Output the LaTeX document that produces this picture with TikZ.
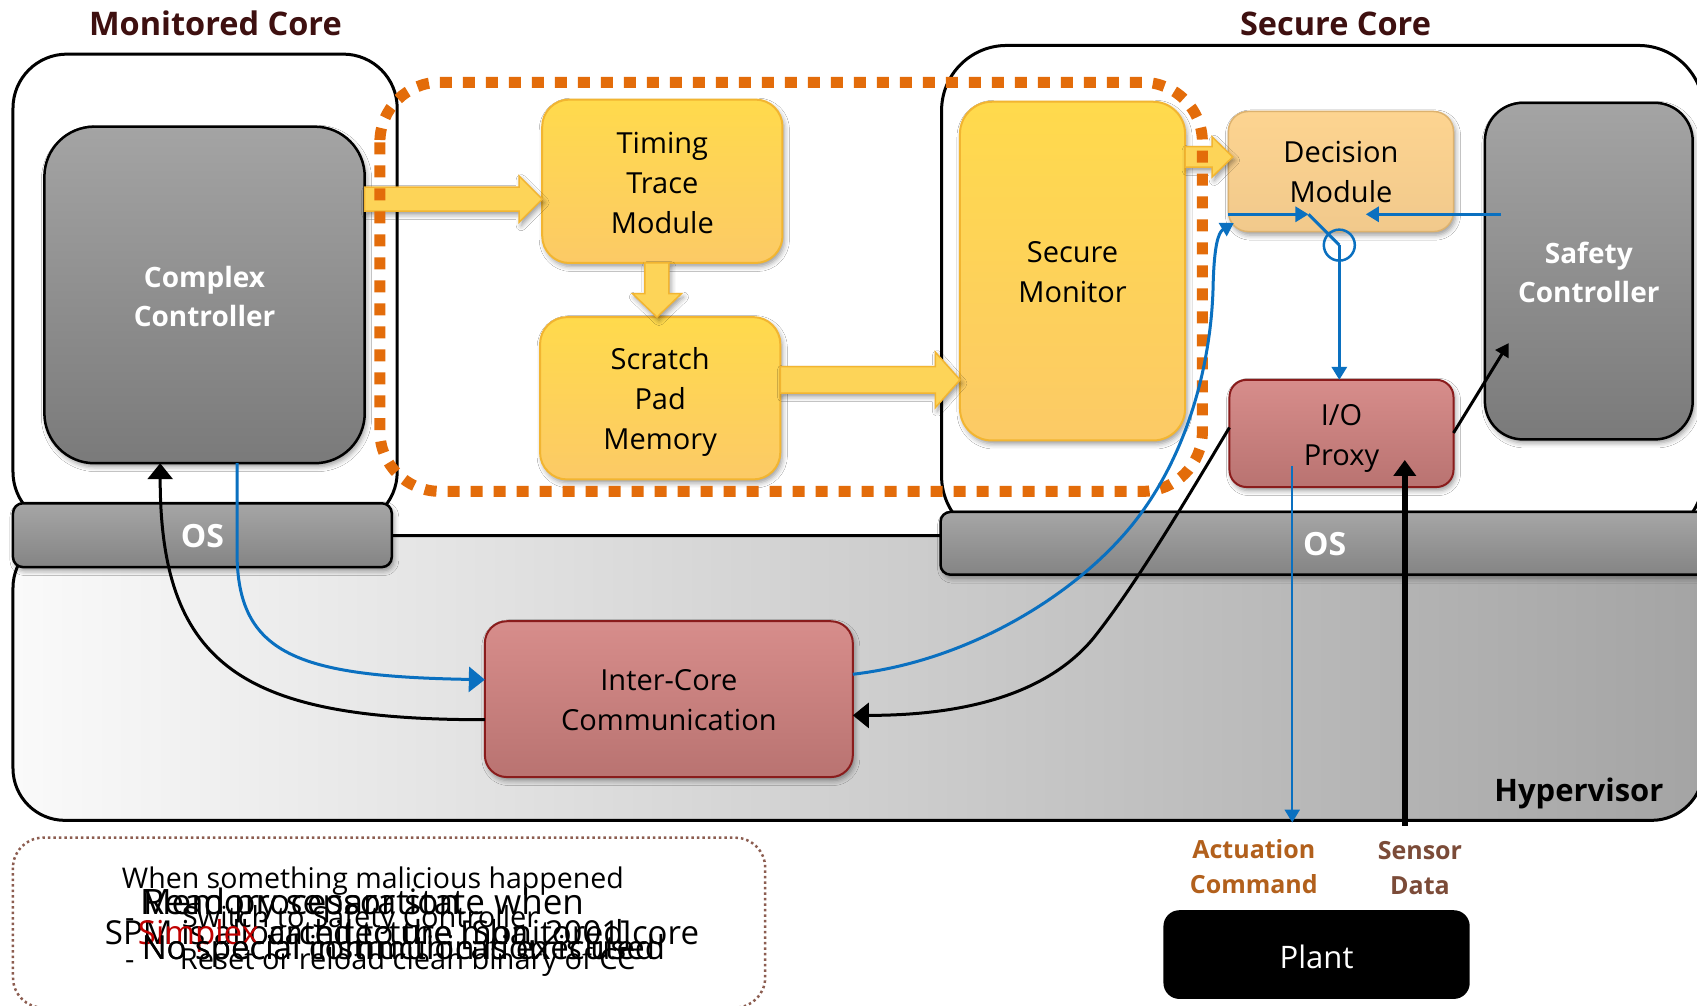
\documentclass[tikz,border=0pt]{standalone}
\usepackage{fontspec}
\setmainfont{Open Sans}
\usetikzlibrary{fit,calc,arrows.meta,shadows.blur}

% palette
\definecolor{titlebrown}{HTML}{3E1010}
\definecolor{ctrlblue}{HTML}{0A70C0}
\definecolor{dotorange}{HTML}{E36C0A}
\definecolor{yeltop}{HTML}{FFDA4C}
\definecolor{yelbot}{HTML}{FCCA66}
\definecolor{yeledge}{HTML}{F2B531}
\definecolor{yelfill}{HTML}{FDD458}
\definecolor{dectop}{HTML}{FDD490}
\definecolor{decbot}{HTML}{F1C98C}
\definecolor{decedge}{HTML}{DDB26E}
\definecolor{pinktop}{HTML}{D78D8B}
\definecolor{pinkbot}{HTML}{B97371}
\definecolor{pinkedge}{HTML}{8A1C1C}
\definecolor{graytop}{HTML}{A4A4A4}
\definecolor{graybot}{HTML}{7A7A7A}
\definecolor{ostop}{HTML}{A6A6A6}
\definecolor{osbot}{HTML}{848484}
\definecolor{hvleft}{HTML}{FAFAFA}
\definecolor{hvright}{HTML}{A4A4A4}
\definecolor{actbrown}{HTML}{B2601C}
\definecolor{senbrown}{HTML}{7B4B38}
\definecolor{notebrown}{HTML}{8C5D50}
\definecolor{simplexred}{HTML}{C00000}

% type sizes
\newcommand\bodyfs{\fontsize{29}{40}\selectfont}
\newcommand\boldfs{\fontsize{28}{39}\selectfont\bfseries}
\newcommand\titlefs{\fontsize{32.5}{38}\selectfont\bfseries}
\newcommand\osfs{\fontsize{32}{36}\selectfont\bfseries}
\newcommand\notefs[1]{\fontsize{#1}{#1}\selectfont}

% wide block arrow pointing right: start, tip, half shaft, half head, head length
\newcommand\blockright[5]{%
  \path[blockarrow] ($(#1)+(0pt,#3)$) -- ($(#2)+(-#5,#3)$) -- ($(#2)+(-#5,#4)$) -- (#2)
    -- ($(#2)+(-#5,-#4)$) -- ($(#2)+(-#5,-#3)$) -- ($(#1)+(0pt,-#3)$) -- cycle;}
% wide block arrow pointing down
\newcommand\blockdown[5]{%
  \path[blockarrow] ($(#1)+(#3,0pt)$) -- ($(#2)+(#3,#5)$) -- ($(#2)+(#4,#5)$) -- (#2)
    -- ($(#2)+(-#4,#5)$) -- ($(#2)+(-#3,#5)$) -- ($(#1)+(-#3,0pt)$) -- cycle;}

\tikzset{
  every node/.style={inner sep=0pt, outer sep=0pt},
  softshadow/.style={blur shadow={shadow xshift=2pt, shadow yshift=-3.5pt,
      shadow blur radius=5pt, shadow opacity=40}},
  boxtext/.style={align=center, font=\bodyfs},
  boldtext/.style={align=center, text=white, font=\boldfs},
  graybox/.style={rounded corners=#1, draw=black, line width=2.5pt,
      top color=graytop, bottom color=graybot, softshadow},
  yellowbox/.style={rounded corners=#1, draw=yeledge, line width=2pt,
      top color=yeltop, bottom color=yelbot, softshadow},
  decbox/.style={rounded corners=#1, draw=decedge, line width=1.5pt,
      top color=dectop, bottom color=decbot, softshadow},
  pinkbox/.style={rounded corners=#1, draw=pinkedge, line width=2pt,
      top color=pinktop, bottom color=pinkbot, softshadow},
  osbar/.style={rounded corners=10pt, draw=black, line width=2.5pt,
      top color=ostop, bottom color=osbot, softshadow},
  ostext/.style={text=white, font=\osfs},
  corebox/.style={draw=black, line width=3pt, fill=white, rounded corners=#1},
  blockarrow/.style={fill=yelfill, draw=yeledge, line width=1.5pt, softshadow},
  ctrl/.style={draw=ctrlblue, line width=3pt},
  back/.style={draw=black, line width=3pt},
  bigtip/.style={-{Triangle[length=16pt,width=25pt]}},
  smalltip/.style={-{Triangle[length=13pt,width=15pt]}},
  noteline/.style={anchor=base west, font=\notefs{#1}},
}

\begin{document}
\begin{tikzpicture}[x=1.0823pt,y=-1.0823pt]
\useasboundingbox (0,0) rectangle (1568,929);
\fill[white] (0,0) rectangle (1568,929);
\clip (0,0) rectangle (1568,929);

% hypervisor layer and the two cores
\path[draw=black, line width=3pt, left color=hvleft, right color=hvright,
      rounded corners=52pt] (12,495) rectangle (1574,758);
\path[corebox=54pt] (12,50) rectangle (367,486);
\path[corebox=65pt] (870,42) rectangle (1574,500);

% note panel
\path[draw=notebrown, line width=2.5pt, dash pattern=on 2.5pt off 3pt,
      rounded corners=30pt] (12,774) rectangle (707,931);

% titles
\node[font=\titlefs, text=titlebrown, anchor=base] (mtitle) at (199,32.5) {Monitored Core};
\node[font=\titlefs, text=titlebrown, anchor=base] (stitle) at (1234,32.5) {Secure Core};

% operating systems
\node[osbar, fit={(12,465) (362,524)}] (osl) {};
\node[ostext] (osltext) at ($(osl.center)+(0,0.5)$) {OS};
\node[osbar, fit={(869,473) (1620,531)}] (osr) {};
\node[ostext] (osrtext) at (1224,503) {OS};

% components
\node[graybox=50pt, fit={(41,117) (337,428)}] (cc) {};
\node[boldtext] (cctext) at ($(cc.center)+(0,1)$) {Complex\\Controller};
\node[yellowbox=27pt, fit={(501,92) (723,243)}] (timing) {};
\node[boxtext] (timingtext) at ($(timing.center)+(0,1.5)$) {Timing\\Trace\\Module};
\node[yellowbox=27pt, fit={(499,293) (721,443)}] (spm) {};
\node[boxtext] (spmtext) at ($(spm.center)+(0,3.5)$) {Scratch\\Pad\\Memory};
\node[yellowbox=32pt, fit={(887,94) (1095,407)}] (smon) {};
\node[boxtext] (smontext) at ($(smon.center)+(0,1)$) {Secure\\Monitor};
\node[decbox=20pt, fit={(1135,103) (1343,214)}] (dm) {};
\node[boxtext] (dmtext) at (dm.center) {Decision\\Module};
\node[graybox=38pt, fit={(1372,95) (1564,406)}] (sc) {};
\node[boldtext] (sctext) at ($(sc.center)+(0,1)$) {Safety\\Controller};
\node[pinkbox=17pt, fit={(1136,351) (1343,450)}] (io) {};
\node[boxtext] (iotext) at ($(io.center)+(0,5)$) {I/O\\Proxy};
\node[pinkbox=22pt, fit={(448,574) (788,718)}] (icc) {};
\node[boxtext] (icctext) at ($(icc.center)+(0,0.5)$) {Inter-Core\\Communication};
\node[rounded corners=16pt, fill=black, fit={(1075,841) (1358,923)}] (plant) {};
\node[text=white, font=\fontsize{31}{36}\selectfont] (planttext) at ($(plant.center)+(0,2)$) {Plant};

% labels
\node[anchor=base east, font=\fontsize{31}{36}\selectfont\bfseries] (hv) at (1537,740.7) {Hypervisor};
\node[align=center, text=actbrown, font=\fontsize{25}{35}\selectfont\bfseries] (act) at (1158.5,801) {Actuation\\Command};
\node[align=center, text=senbrown, font=\fontsize{25}{35}\selectfont\bfseries] (sen) at (1312,802.5) {Sensor\\Data};

% data path block arrows
\coordinate (a1s) at (cc.east |- 0,184);
\coordinate (a1e) at (timing.west |- a1s);
\blockright{a1s}{a1e}{12pt}{23pt}{23pt}
\coordinate (a2s) at (timing.south -| 607,0);
\coordinate (a2e) at (spm.north -| a2s);
\blockdown{a2s}{a2e}{12pt}{24.5pt}{23.5pt}
\coordinate (a3s) at (spm.east |- 0,351);
\coordinate (a3e) at (smon.west |- a3s);
\blockright{a3s}{a3e}{13.3pt}{27.7pt}{24.6pt}
\coordinate (a4s) at (smon.east |- 0,145);
\coordinate (a4e) at ($(dm.west |- a4s)+(4,0)$);
\blockright{a4s}{a4e}{10.3pt}{20pt}{20.5pt}

% protected region
\path[draw=dotorange, line width=11pt, dash pattern=on 12pt off 11pt,
      rounded corners=60pt] (351,76) rectangle (1111,454);

% anchor points of the control connectors
\coordinate (ccb1) at (cc.south -| 219,0);
\coordinate (ccb2) at (cc.south -| 148,0);
\coordinate (icw1) at (icc.west |- 0,628);
\coordinate (icw2) at (icc.west |- 0,665);
\coordinate (ice1) at (icc.east |- 0,623);
\coordinate (ice2) at (icc.east |- 0,661);
\coordinate (iow) at (io.west |- 0,395);
\coordinate (ioe) at (io.east |- 0,400);
\coordinate (dmin) at ($(dm.south west)+(5,-8)$);
\coordinate (dmw) at (dm.west |- 0,198);
\coordinate (swl) at (1209,198);
\coordinate (scin) at ($(sc.west |- 0,198)+(15,0)$);
\coordinate (scend) at (1262,198);
\coordinate (scarr) at ($(sc.west)+(22,66.5)$);
\coordinate (actstart) at (1194,431);
\coordinate (actend) at (1194,760);
\coordinate (senstart) at (1298,763);
\coordinate (senend) at (1298,425);

% monitored core <-> inter-core channel
\draw[ctrl, bigtip] (ccb1) -- ++(0,82) .. controls +(0,95) and ($(icw1)+(-173,-3)$) .. (icw1);
\draw[back, bigtip] (icw2) .. controls +(-220,0) and +(0,190) .. (ccb2);

% inter-core channel <-> secure core
\draw[ctrl, smalltip] (ice1) .. controls +(112,-13) and +(-50,65) .. ++(262,-143)
  .. controls +(50,-65) and +(-1,70) .. ++(71,-220)
  .. controls +(1,-30) and +(-15,9) .. (dmin);
\draw[back, bigtip] (iow) .. controls +(-36,60) and +(40,-50) .. ++(-126,195)
  .. controls +(-50,60) and +(82,0) .. (ice2);

% decision switch
\node[circle, draw=ctrlblue, line width=2.5pt, minimum size=31pt] (sw) at (1237.5,226.5) {};
\draw[ctrl, smalltip] (dmw) -- (swl);
\draw[ctrl] (swl) -- (sw.center);
\draw[ctrl, smalltip] (sw.center) -- (io.north -| sw.center);
\draw[ctrl, smalltip] (scin) -- (scend);
\draw[back, smalltip] (ioe) -- (scarr);

% plant interface
\draw[ctrl, line width=2.5pt, smalltip] (actstart) -- (actend);
\draw[back, line width=6pt, -{Triangle[length=16pt,width=22pt]}] (senstart) -- (senend);

% overlapping note text
\node[noteline=28.5] (n1) at (112.7,821.4) {When something malicious happened};
\node[noteline=35] (n2a) at (132,845.4) {Read processor state when};
\node[noteline=35] (n2b) at (129.4,845.4) {Memory separation};
\node[noteline=29] (n3d) at (115.5,857.4) {-};
\node[noteline=29] (n3) at (168,857.4) {Switch to Safety Controller};
\node[noteline=33] (n4a) at (97,873) {SPM is allocated to the monitored core};
\node[noteline=33] (n4b) at (127.5,873) {\textcolor{simplexred}{Simplex} architecture [Sha, 2001]};
\node[noteline=33] (n5a) at (131,887) {No special instruction is executed};
\node[noteline=33] (n5b) at (131,887) {No special communication is used};
\node[noteline=29] (n6d) at (115.5,896) {-};
\node[noteline=29] (n6) at (166.3,896) {Reset or reload clean binary of CC};
\end{tikzpicture}
\end{document}
